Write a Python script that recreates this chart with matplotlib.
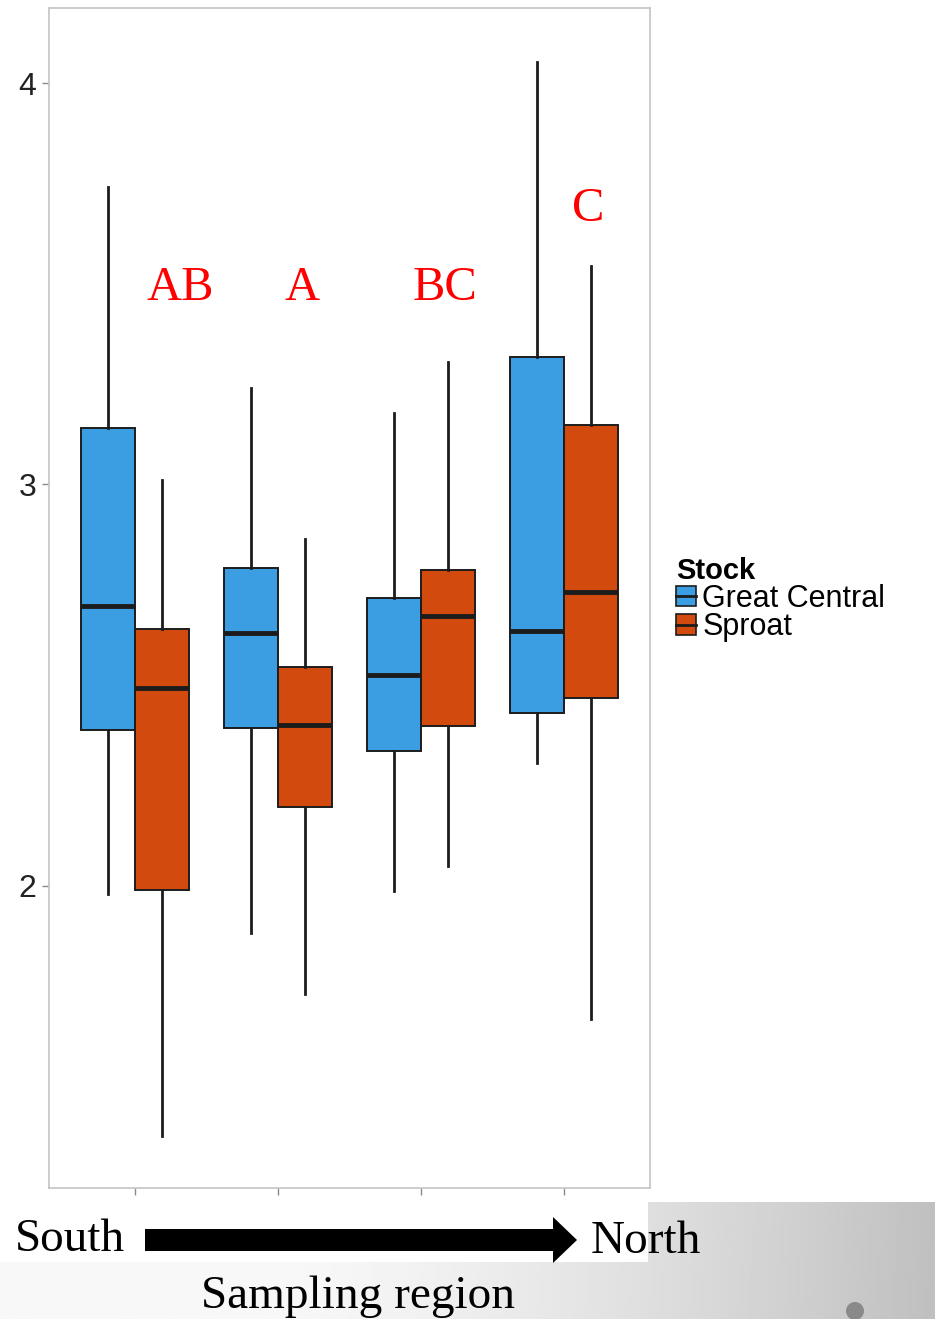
import numpy as np
import matplotlib
matplotlib.use("Agg")
import matplotlib.pyplot as plt
from matplotlib.patches import Rectangle, Polygon, Circle, Patch
from matplotlib.lines import Line2D

# five-number summaries per sampling region (south -> north)
regions = [1, 2, 3, 4]
gc_lo = [1.980, 1.883, 1.988, 2.307]
gc_q1 = [2.389, 2.394, 2.337, 2.431]
gc_med = [2.698, 2.631, 2.526, 2.636]
gc_q3 = [3.140, 2.791, 2.718, 3.317]
gc_hi = [3.741, 3.239, 3.177, 4.052]

sp_lo = [1.377, 1.731, 2.050, 1.668]
sp_q1 = [1.990, 2.197, 2.399, 2.469]
sp_med = [2.494, 2.401, 2.671, 2.733]
sp_q3 = [2.641, 2.544, 2.786, 3.147]
sp_hi = [3.010, 2.865, 3.304, 3.544]

letters = ["AB", "A", "BC", "C"]
letter_x = [1.32, 2.17, 3.17, 4.17]
letter_y = [3.49, 3.49, 3.49, 3.685]

stocks = ["Great Central", "Sproat"]
colors = ["#3b9de2", "#d24a0e"]

W, H = 935, 1319
fig = plt.figure(figsize=(W / 100, H / 100), dpi=100)

# grey gradient backdrop with white areas on top
bg = fig.add_axes([0, 0, 1, 1], zorder=-10)
xx = np.linspace(0, 1, 400)
yy = np.linspace(0, 1, 200)
gx, gy = np.meshgrid(xx, yy)
grad = 1.0 - 0.22 * np.clip((gx - 0.3) / 0.7, 0, 1) ** 1.4 - 0.03 * gy
bg.imshow(grad, cmap="gray", vmin=0, vmax=1, extent=[0, W, H, 0], aspect="auto")
bg.add_patch(Rectangle((0, 0), 648, 1262, color="white", lw=0))
bg.add_patch(Rectangle((648, 0), W - 648, 1202, color="white", lw=0))
bg.add_patch(Circle((855, 1311), 9, color="#8a8a8a", lw=0))
bg.set_xlim(0, W)
bg.set_ylim(H, 0)
bg.axis("off")

# plot panel
ax = fig.add_axes([49 / W, 1 - 1188 / H, 601 / W, 1180 / H])
ax.set_facecolor("white")

def stats(lo, q1, med, q3, hi):
    return [dict(whislo=a, q1=b, med=c, q3=d, whishi=e, fliers=[])
            for a, b, c, d, e in zip(lo, q1, med, q3, hi)]

bw = 0.375
groups = [stats(gc_lo, gc_q1, gc_med, gc_q3, gc_hi),
          stats(sp_lo, sp_q1, sp_med, sp_q3, sp_hi)]
for k, (st, col) in enumerate(zip(groups, colors)):
    pos = [r + (k - 0.5) * bw for r in regions]
    ax.bxp(st, positions=pos, widths=bw, patch_artist=True, showcaps=False,
           showfliers=False, manage_ticks=False,
           boxprops=dict(facecolor=col, edgecolor="#1c1c1c", linewidth=1.4),
           medianprops=dict(color="#1c1c1c", linewidth=3.5),
           whiskerprops=dict(color="#1c1c1c", linewidth=2.0))

for t, x, y in zip(letters, letter_x, letter_y):
    ax.text(x, y, t, color="#ff0000", fontsize=35, family="Liberation Serif",
            ha="center", va="center")

ax.set_xlim(0.4, 4.6)
ax.set_ylim(1.247, 4.187)
ax.set_yticks([2, 3, 4])
ax.set_yticklabels(["2", "3", "4"], fontsize=23, color="#222222",
                   family="Liberation Sans")
ax.set_xticks(regions)
ax.set_xticklabels([])
ax.tick_params(length=5, width=1, color="#8a8a8a", pad=4)
for s in ax.spines.values():
    s.set_color("#c4c4c4")
    s.set_linewidth(1.2)

# legend keys: small box with a median bar
handles = [(Patch(facecolor=c, edgecolor="#1c1c1c", lw=1.2),
            Line2D([], [], color="#1c1c1c", lw=2)) for c in colors]
leg = fig.legend(handles, stocks, loc="upper left",
                 bbox_to_anchor=(655 / W, 1 - 536 / H), frameon=False,
                 title="Stock", alignment="left",
                 prop=dict(family="Liberation Sans", size=22),
                 handlelength=0.65, handleheight=0.65, handletextpad=0.2,
                 labelspacing=-0.05, borderpad=0.2)
leg.get_title().set_fontweight("bold")
leg.get_title().set_fontsize(21)
leg.get_title().set_family("Liberation Sans")

# South -> North arrow under the axis
bg.add_patch(Rectangle((145, 1229), 410, 22, color="black", lw=0))
bg.add_patch(Polygon([[553, 1217], [577, 1240], [553, 1263]], closed=True,
                     color="black", lw=0))
fig.text(15 / W, 1 - 1240 / H, "South", fontsize=34, family="Liberation Serif",
         ha="left", va="center")
fig.text(591 / W, 1 - 1242 / H, "North", fontsize=34, family="Liberation Serif",
         ha="left", va="center")
fig.text(358 / W, 1 - 1297 / H, "Sampling region", fontsize=34,
         family="Liberation Serif", ha="center", va="center")

fig.savefig("out.png", dpi=100)
